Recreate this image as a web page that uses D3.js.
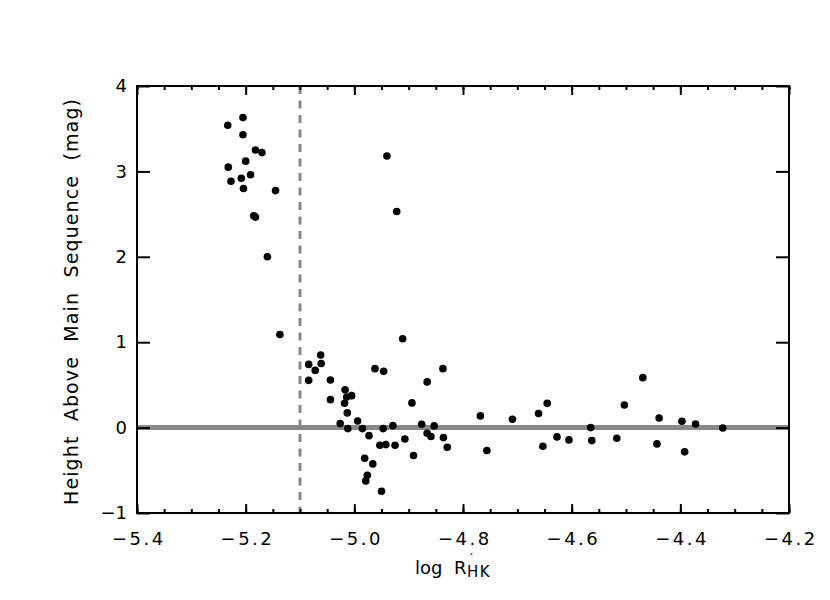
<!DOCTYPE html>
<html>
<head>
<meta charset="utf-8">
<script src="https://cdn.jsdelivr.net/npm/d3@7"></script>
<style>
  body { margin: 0; background: #fff; }
  text { font-family: "DejaVu Sans", sans-serif; fill: #000; }
</style>
</head>
<body>
<div id="chart"></div>
<script>
// values
const logR = [
  -5.233, -5.205, -5.205, -5.182, -5.170, -5.232, -5.200, -5.227, -5.208, -5.191,
  -5.204, -5.145, -5.185, -5.182, -5.160, -5.137, -4.940, -4.922, -4.911,
  -5.084, -5.062, -5.061, -5.072, -5.084, -5.044, -4.962, -4.946, -4.837, -4.866,
  -5.017, -5.044, -5.005, -5.014, -5.018, -4.894, -5.013, -5.026, -4.994, -5.012,
  -4.985, -4.947, -4.929, -4.973, -4.876, -4.853, -4.866, -4.859, -4.836, -4.829,
  -4.907, -4.925, -4.953, -4.942, -4.891, -4.981, -4.966, -4.976, -4.979, -4.950,
  -4.768, -4.709, -4.756, -4.661, -4.645, -4.653, -4.627, -4.605, -4.565, -4.563,
  -4.517, -4.503, -4.469, -4.439, -4.443, -4.397, -4.372, -4.392, -4.322
]
const height_ms = [
  3.54, 3.63, 3.43, 3.25, 3.22, 3.05, 3.12, 2.885, 2.92, 2.96,
  2.80, 2.775, 2.48, 2.465, 2.00, 1.09, 3.18, 2.53, 1.04,
  0.74, 0.85, 0.75, 0.67, 0.553, 0.557, 0.69, 0.66, 0.69, 0.535,
  0.444, 0.327, 0.374, 0.359, 0.285, 0.289, 0.172, 0.047, 0.078, -0.012,
  -0.012, -0.012, 0.023, -0.094, 0.039, 0.02, -0.066, -0.105, -0.117, -0.23,
  -0.133, -0.207, -0.207, -0.199, -0.327, -0.359, -0.425, -0.558, -0.624, -0.745,
  0.137, 0.097, -0.269, 0.164, 0.284, -0.219, -0.109, -0.144, 0.0, -0.152,
  -0.125, 0.265, 0.585, 0.113, -0.191, 0.074, 0.043, -0.284, -0.004
]
const xTicks = [-5.4, -5.2, -5.0, -4.8, -4.6, -4.4, -4.2]
const yTicks = [-1, 0, 1, 2, 3, 4]
const cutoff = -5.1

const margin = {top: 86, right: 41, bottom: 87, left: 137}
const W = 830, H = 600
const width = W - margin.left - margin.right
const height = H - margin.top - margin.bottom

const svg = d3.select("#chart").append("svg")
    .attr("width", W)
    .attr("height", H)
  .append("g")
    .attr("transform", "translate(" + margin.left + "," + margin.top + ")")

const x = d3.scaleLinear().domain([-5.4, -4.2]).range([0, width])
const y = d3.scaleLinear().domain([-1, 4]).range([height, 0])

const fmtX = d => d3.format(".1f")(d).replace("-", "\u2212")
const fmtY = d => d3.format("d")(d).replace("-", "\u2212")
const minorX = d3.range(-5.4, -4.2 + 0.001, 0.05)

// reference lines
svg.append("line")
    .attr("x1", 0).attr("x2", width)
    .attr("y1", y(0)).attr("y2", y(0))
    .attr("stroke", "#888").attr("stroke-width", 5)

svg.append("line")
    .attr("x1", x(cutoff)).attr("x2", x(cutoff))
    .attr("y1", 0).attr("y2", height)
    .attr("stroke", "#888").attr("stroke-width", 3)
    .attr("stroke-dasharray", "8,6.5")

// points
svg.selectAll("circle")
    .data(logR.map((d, i) => [d, height_ms[i]]))
    .join("circle")
    .attr("cx", d => x(d[0]))
    .attr("cy", d => y(d[1]))
    .attr("r", 3.8)
    .attr("fill", "#000")

// axes: ticks drawn inward on all four sides
function styleAxis(g) {
  g.select(".domain").remove()
  g.selectAll(".tick line").attr("stroke", "#000").attr("stroke-width", 2)
}

svg.append("g")
    .attr("transform", "translate(0," + height + ")")
    .call(d3.axisBottom(x).tickValues(minorX).tickSize(-4).tickFormat(""))
    .call(styleAxis)
svg.append("g")
    .attr("transform", "translate(0," + height + ")")
    .call(d3.axisBottom(x).tickValues(xTicks).tickSize(-9).tickFormat(fmtX))
    .call(styleAxis)
    .selectAll("text")
    .attr("font-size", 18).attr("letter-spacing", 2.5)
    .attr("y", 32).attr("dy", 0).attr("dx", 1.25)

svg.append("g")
    .call(d3.axisTop(x).tickValues(minorX).tickSize(-4).tickFormat(""))
    .call(styleAxis)
svg.append("g")
    .call(d3.axisTop(x).tickValues(xTicks).tickSize(-9).tickFormat(""))
    .call(styleAxis)

svg.append("g")
    .call(d3.axisLeft(y).tickValues(yTicks).tickSize(-13).tickPadding(10).tickFormat(fmtY))
    .call(styleAxis)
    .selectAll("text").attr("font-size", 18)

svg.append("g")
    .attr("transform", "translate(" + width + ",0)")
    .call(d3.axisRight(y).tickValues(yTicks).tickSize(-13).tickFormat(""))
    .call(styleAxis)

// frame
svg.append("rect")
    .attr("width", width).attr("height", height)
    .attr("fill", "none").attr("stroke", "#000").attr("stroke-width", 2)

// axis titles
svg.append("text")
    .attr("x", 278).attr("y", height + 61)
    .attr("font-size", 18)
    .attr("xml:space", "preserve")
    .text("log  R")
const sub = svg.append("text")
sub.append("tspan")
    .attr("x", 333).attr("y", height + 48.5)
    .attr("font-size", 13)
    .text("\u2032")
sub.append("tspan")
    .attr("x", 330).attr("y", height + 64)
    .attr("font-size", 15)
    .attr("letter-spacing", 1.5)
    .text("HK")

svg.append("text")
    .attr("transform", "translate(-59," + (height / 2 + 2.5) + ") rotate(-90)")
    .attr("text-anchor", "middle")
    .attr("font-size", 19)
    .attr("textLength", 406)
    .attr("lengthAdjust", "spacing")
    .attr("xml:space", "preserve")
    .text("Height  Above  Main  Sequence  (mag)")
</script>
</body>
</html>
